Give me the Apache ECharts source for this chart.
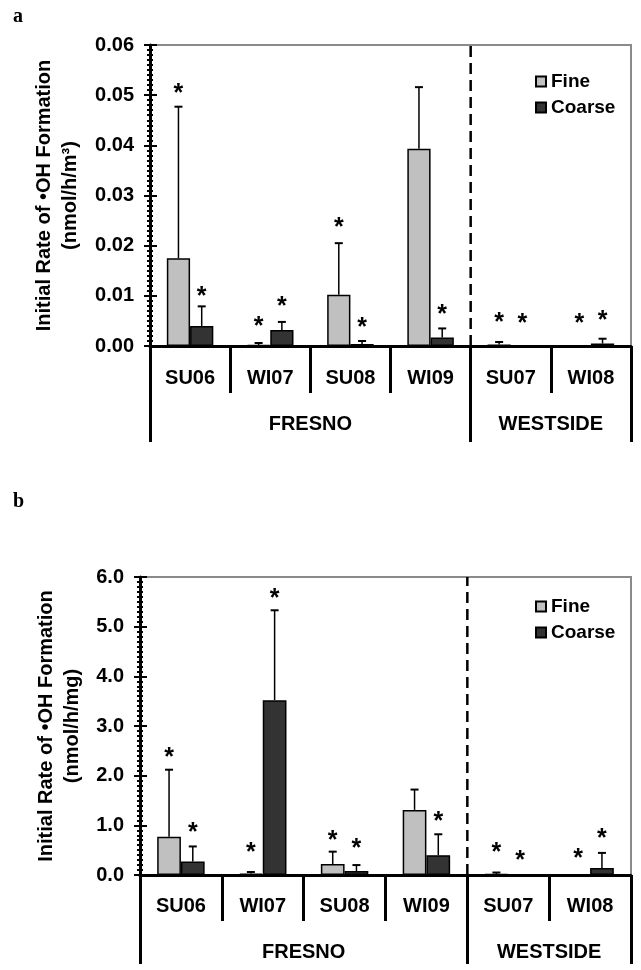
<!DOCTYPE html>
<html><head><meta charset="utf-8">
<script src="https://cdn.jsdelivr.net/npm/echarts@6/dist/echarts.min.js"></script>
<style>html,body{margin:0;padding:0;background:#fff}#c{width:641px;height:970px}</style>
</head><body><div id="c"></div>
<script>
// ---- data ----
const categories = ['SU06', 'WI07', 'SU08', 'WI09', 'SU07', 'WI08'];
const groupNames = ['FRESNO', 'WESTSIDE'];
const groupBounds = [0, 4, 6];      // category-boundary positions of the site groups
const groupCenters = [2, 5];
const seriesNames = ['Fine', 'Coarse'];

// panel a (nmol/h/m3)
const fineA = [0.0175, 0.0002, 0.0102, 0.0393, 0.0003, 0];
const fineAErrTop = [0.0477, 0.0006, 0.0205, 0.0516, 0.0008, null];
const coarseA = [0.0040, 0.0032, 0.0004, 0.0017, 0, 0.0005];
const coarseAErrTop = [0.0079, 0.0048, 0.0010, 0.0035, null, 0.00145];
const starFineA = [0.0514, 0.0048, 0.0246, null, 0.0057, 0.0055];
const starCoarseA = [0.0108, 0.0088, 0.0046, 0.0073, 0.0055, 0.0061];

// panel b (nmol/h/mg)
const fineB = [0.77, 0.03, 0.22, 1.31, 0.02, 0];
const fineBErrTop = [2.12, 0.06, 0.47, 1.72, 0.05, null];
const coarseB = [0.27, 3.52, 0.08, 0.40, 0, 0.14];
const coarseBErrTop = [0.575, 5.33, 0.20, 0.82, null, 0.445];
const starFineB = [2.47, 0.555, 0.79, null, 0.555, 0.43];
const starCoarseB = [0.945, 5.67, 0.63, 1.18, 0.40, 0.84];

const FONT = '"Liberation Sans", Arial, sans-serif';
const BAR_FRAC = 0.29;

function errRender(sign) {
  return function (params, api) {
    const i = api.value(0), v = api.value(1), e = api.value(2);
    const bw = api.size([1, 0])[0] * BAR_FRAC;
    const p0 = api.coord([i, v]);
    const p1 = api.coord([i, e]);
    const x = p0[0] + sign * bw / 2;
    return { type: 'group', children: [
      { type: 'line', shape: { x1: x, y1: p0[1], x2: x, y2: p1[1] }, style: { stroke: '#000', lineWidth: 1.5 } },
      { type: 'line', shape: { x1: x - 4, y1: p1[1], x2: x + 4, y2: p1[1] }, style: { stroke: '#000', lineWidth: 2 } }
    ]};
  };
}
function starRender(sign) {
  return function (params, api) {
    const i = api.value(0), v = api.value(1);
    const bw = api.size([1, 0])[0] * BAR_FRAC;
    const p = api.coord([i, v]);
    return { type: 'text', x: p[0] + sign * bw / 2, y: p[1] + 5.5,
      style: { text: '*', fontSize: 25, fontWeight: 'bold', fontFamily: FONT, fill: '#000', align: 'center', verticalAlign: 'middle' } };
  };
}
function triples(vals, tops) {
  const out = [];
  vals.forEach((v, i) => { if (tops[i] != null) out.push([i, v, tops[i]]); });
  return out;
}
function pairs(vals) {
  const out = [];
  vals.forEach((v, i) => { if (v != null) out.push([i, v]); });
  return out;
}

const panels = [
  { fine: fineA, fineTop: fineAErrTop, coarse: coarseA, coarseTop: coarseAErrTop, sf: starFineA, sc: starCoarseA,
    max: 0.06, interval: 0.01, dec: 2, unit: '(nmol/h/m³)', nameGap: 67,
    grid: { left: 150, right: 10, top: 45, height: 301 },
    catTick: 47, groupTick: 96, catMargin: 22, groupMargin: 68, legendTop: 67 },
  { fine: fineB, fineTop: fineBErrTop, coarse: coarseB, coarseTop: coarseBErrTop, sf: starFineB, sc: starCoarseB,
    max: 6, interval: 1, dec: 1, unit: '(nmol/h/mg)', nameGap: 55,
    grid: { left: 140, right: 10, top: 577, height: 298 },
    catTick: 46, groupTick: 89, catMargin: 21, groupMargin: 67, legendTop: 592 }
];

const option = { animation: false, backgroundColor: '#fff',
  title: [
    { text: 'a', left: 8, top: 2, textStyle: { fontFamily: '"Liberation Serif", "Times New Roman", serif', fontWeight: 'bold', fontSize: 20, color: '#000' } },
    { text: 'b', left: 8, top: 487, textStyle: { fontFamily: '"Liberation Serif", "Times New Roman", serif', fontWeight: 'bold', fontSize: 20, color: '#000' } }
  ],
  grid: [], xAxis: [], yAxis: [], series: [], legend: [] };

panels.forEach((P, g) => {
  option.grid.push(Object.assign({ show: true, borderColor: '#8a8a8a', borderWidth: 2, containLabel: false, outerBoundsMode: 'none' }, P.grid));
  const lbl = { fontSize: 20, fontWeight: 'bold', color: '#000', fontFamily: FONT };
  option.xAxis.push({ type: 'category', gridIndex: g, data: categories, position: 'bottom', boundaryGap: true,
    axisLine: { lineStyle: { color: '#000', width: 3 } },
    axisTick: { show: true, length: P.catTick, lineStyle: { color: '#000', width: 3 } },
    axisLabel: Object.assign({ margin: P.catMargin, interval: 0 }, lbl), splitLine: { show: false } });
  option.xAxis.push({ type: 'value', gridIndex: g, min: 0, max: 6, position: 'bottom',
    axisLine: { show: false },
    axisTick: { show: true, customValues: groupBounds, length: P.groupTick, lineStyle: { color: '#000', width: 3 } },
    axisLabel: Object.assign({ customValues: groupCenters, margin: P.groupMargin,
      formatter: v => groupNames[groupCenters.indexOf(v)] || '' }, lbl),
    splitLine: { show: false } });
  option.yAxis.push({ type: 'value', gridIndex: g, min: 0, max: P.max, interval: P.interval, position: 'left',
    axisLine: { show: true, lineStyle: { color: '#000', width: 3 } },
    axisTick: { show: true, length: 6, lineStyle: { color: '#000', width: 2 } },
    minorTick: { show: true, splitNumber: 10, length: 3, lineStyle: { color: '#000', width: 2 } },
    axisLabel: Object.assign({ margin: 16, formatter: v => v.toFixed(P.dec) }, lbl),
    splitLine: { show: false }, minorSplitLine: { show: false },
    name: 'Initial Rate of •OH Formation\n' + P.unit, nameLocation: 'middle', nameRotate: 90, nameGap: P.nameGap,
    nameTextStyle: { fontSize: 20, fontWeight: 'bold', color: '#000', fontFamily: FONT, lineHeight: 26 } });
  option.yAxis.push({ type: 'value', gridIndex: g, min: 0, max: P.max, interval: P.interval, position: 'left', offset: 0,
    axisLine: { show: false }, axisLabel: { show: false }, splitLine: { show: false },
    axisTick: { show: true, inside: true, length: 7, lineStyle: { color: '#000', width: 2 } },
    minorTick: { show: true, splitNumber: 10, length: 3, lineStyle: { color: '#000', width: 2 } } });
  const xi = 2 * g, yi = 2 * g;
  option.series.push({ name: 'Fine', type: 'bar', xAxisIndex: xi, yAxisIndex: yi, data: P.fine,
    barWidth: (BAR_FRAC * 100) + '%', barGap: '0%',
    itemStyle: { color: '#c0c0c0', borderColor: '#000', borderWidth: 1.5 } });
  option.series.push({ name: 'Coarse', type: 'bar', xAxisIndex: xi, yAxisIndex: yi, data: P.coarse,
    barWidth: (BAR_FRAC * 100) + '%', barGap: '0%',
    itemStyle: { color: '#333333', borderColor: '#000', borderWidth: 1.5 } });
  option.series.push({ type: 'custom', xAxisIndex: xi, yAxisIndex: yi, z: 3, renderItem: errRender(-1), data: triples(P.fine, P.fineTop) });
  option.series.push({ type: 'custom', xAxisIndex: xi, yAxisIndex: yi, z: 3, renderItem: errRender(1), data: triples(P.coarse, P.coarseTop) });
  option.series.push({ type: 'custom', xAxisIndex: xi, yAxisIndex: yi, z: 4, renderItem: starRender(-1), data: pairs(P.sf) });
  option.series.push({ type: 'custom', xAxisIndex: xi, yAxisIndex: yi, z: 4, renderItem: starRender(1), data: pairs(P.sc) });
  option.series.push({ type: 'custom', xAxisIndex: xi + 1, yAxisIndex: yi, z: 2,
    data: [[groupBounds[1]]],
    renderItem: (params, api) => {
      const a = api.coord([api.value(0), 0]), b = api.coord([api.value(0), P.max]);
      return { type: 'line', shape: { x1: a[0], y1: a[1], x2: b[0], y2: b[1] },
        style: { stroke: '#000', lineWidth: 2.5, lineDash: [11, 6] } };
    } });
  option.legend.push({ data: seriesNames, orient: 'vertical', left: 530, top: P.legendTop, itemWidth: 10, itemHeight: 10,
    itemGap: 7, icon: 'rect', selectedMode: false,
    textStyle: { fontSize: 19, fontWeight: 'bold', color: '#000', fontFamily: FONT } });
});

const chart = echarts.init(document.getElementById('c'));
chart.setOption(option);
</script></body></html>
